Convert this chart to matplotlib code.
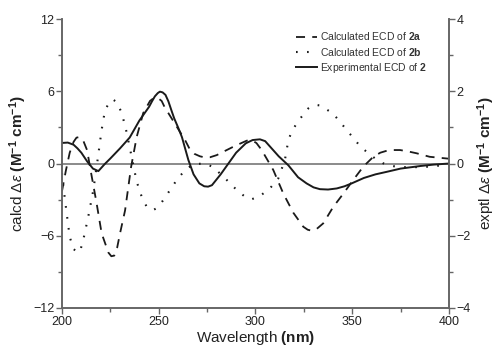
import matplotlib
matplotlib.use("Agg")
import matplotlib.pyplot as plt
from matplotlib.ticker import MultipleLocator

plt.rcParams['font.family'] = ['Liberation Sans', 'DejaVu Sans']
plt.rcParams['mathtext.fontset'] = 'custom'
plt.rcParams['mathtext.rm'] = 'Liberation Sans'
plt.rcParams['mathtext.it'] = 'Liberation Sans:italic'
plt.rcParams['mathtext.bf'] = 'Liberation Sans:bold'
plt.rcParams['mathtext.sf'] = 'Liberation Sans'

# Calculated ECD of 2a (left axis, calcd units)
wl_2a = [200, 202, 204, 206, 207.5, 209, 211, 213, 214.5, 217.9, 220.5, 224, 225.5,
         227, 228.5, 230, 232.6, 235.7, 238.6, 242, 245.5, 247.5, 249.5, 251.5, 253,
         258.4, 263.6, 266, 268.5, 271.3, 274, 276.5, 280, 283.4, 288, 292, 295.5,
         298, 300.5, 303.2, 309.2, 314.4, 319.6, 324.7, 327, 329, 331.5, 335, 340.2,
         345.4, 350.5, 355.7, 360.9, 364.5, 367.8, 371, 374.7, 379, 383.3, 390, 400]
ecd_2a = [-2.3, -0.6, 0.9, 1.8, 2.15, 2.2, 1.9, 1.1, -0.3, -3.3, -5.8, -7.4, -7.7,
          -7.65, -7.0, -5.8, -3.9, -0.3, 2.2, 4.2, 5.2, 5.45, 5.45, 5.2, 4.7,
          3.3, 1.95, 1.2, 0.8, 0.6, 0.5, 0.52, 0.7, 0.98, 1.35, 1.65, 1.9,
          1.95, 1.7, 1.12, -0.54, -2.5, -4.1, -5.25, -5.5, -5.58, -5.45, -4.97, -3.6,
          -2.5, -1.37, -0.26, 0.56, 0.9, 1.06, 1.12, 1.12, 1.0, 0.85, 0.56, 0.4]

# Calculated ECD of 2b (left axis, calcd units)
wl_2b = [200, 200.7, 202.4, 204, 206, 208, 209.5, 211, 213.6, 216.2, 218.4, 220.5,
         222.2, 224.8, 226.5, 228.3, 230.9, 233.4, 236, 238.6, 241.2, 243.8, 245.5,
         247.2, 249, 251.2, 254.6, 259.3, 263.6, 268, 273.9, 278.2, 286, 290.3, 294.6,
         298, 302.3, 307.5, 311.8, 315.2, 317, 318.7, 321.3, 323.9, 327.3, 329.5,
         331.6, 333.5, 335, 339.9, 343.7, 347.1, 350.5, 354, 358.3, 362, 366, 370.4,
         374.7, 383.3, 390, 398, 400]
ecd_2b = [-0.8, -1.9, -4.1, -6.1, -7.1, -7.4, -7.2, -6.35, -4.4, -2.2, 0.3, 2.8,
          4.4, 5.2, 5.3, 5.1, 4.2, 2.6, 0.56, -1.5, -2.76, -3.6, -3.8,
          -3.86, -3.7, -3.3, -2.5, -1.37, -0.54, -0.05, 0.0, -0.3, -1.5, -2.2, -2.76,
          -2.97, -2.7, -2.06, -1.23, 0.3, 1.95, 2.64, 3.34, 3.9, 4.58, 4.8,
          4.86, 4.82, 4.67, 4.17, 3.47, 2.78, 2.14, 1.45, 0.85, 0.4, 0.02, -0.2,
          -0.3, -0.3, -0.26, -0.12, -0.1]

# Experimental ECD of 2 (right axis, exptl units)
wl_exp = [200, 203, 206, 208, 210, 213, 216, 218.8, 222, 225, 230, 235, 240, 245,
          246.5, 248, 249.5, 250.6, 252, 253.5, 255, 256.7, 258, 260, 262, 265.3, 268,
          271, 273.5, 275.5, 277.5, 279, 282, 286, 290, 295, 298.5, 302.3, 305, 307,
          312, 317, 322, 326.4, 330, 333.3, 337.5, 342, 346, 349.7, 356, 362,
          367.8, 375, 385, 392, 400]
ecd_exp = [0.57, 0.58, 0.52, 0.42, 0.3, 0.06, -0.14, -0.21, -0.02, 0.14, 0.42, 0.72,
           1.19, 1.57, 1.72, 1.86, 1.95, 1.99, 1.97, 1.9, 1.72, 1.45, 1.25, 1.0, 0.73,
           0.1, -0.3, -0.55, -0.63, -0.64, -0.6, -0.5, -0.3, 0.0, 0.3, 0.56, 0.65,
           0.67, 0.62, 0.5, 0.2, -0.05, -0.38, -0.55, -0.66, -0.71, -0.72, -0.69,
           -0.63, -0.55, -0.4, -0.3, -0.23, -0.14, -0.07, -0.03, 0.0]

labels = [r'Calculated ECD of $\mathbf{2a}$',
          r'Calculated ECD of $\mathbf{2b}$',
          r'Experimental ECD of $\mathbf{2}$']

fig = plt.figure(figsize=(4.99, 3.53), dpi=100)
ax = fig.add_axes([0.1242, 0.1275, 0.7756, 0.8185])
ax2 = ax.twinx()

lc = '#1a1a1a'
ax.axhline(0, color='#777777', lw=1.2, zorder=1)
l1, = ax.plot(wl_2a, ecd_2a, color=lc, lw=1.3, dashes=(5, 4), label=labels[0])
l2, = ax.plot(wl_2b, ecd_2b, color=lc, lw=1.5, dashes=(0.8, 4.5), label=labels[1])
l3, = ax2.plot(wl_exp, ecd_exp, color=lc, lw=1.4, label=labels[2])

ax.set_xlim(200, 400)
ax.set_ylim(-12, 12)
ax2.set_ylim(-4, 4)

ax.xaxis.set_major_locator(MultipleLocator(50))
ax.xaxis.set_minor_locator(MultipleLocator(25))
ax.yaxis.set_major_locator(MultipleLocator(6))
ax.yaxis.set_minor_locator(MultipleLocator(3))
ax2.yaxis.set_major_locator(MultipleLocator(2))
ax2.yaxis.set_minor_locator(MultipleLocator(1))

sc = '#666666'
for a in (ax, ax2):
    a.spines['top'].set_visible(False)
    for s in a.spines.values():
        s.set_color(sc)
        s.set_linewidth(1.2)
    a.tick_params(which='major', direction='out', length=4, width=1, color=sc,
                  labelsize=9, labelcolor='#222222', pad=1.5)
    a.tick_params(which='minor', direction='out', length=3, width=1, color=sc)

ax.set_xlabel(r'Wavelength $\mathbf{(nm)}$', fontsize=11, color='#222222', labelpad=1)
ax.set_ylabel(r'calcd $\Delta\varepsilon$ $\mathbf{(M^{-1}\ cm^{-1})}$', fontsize=11,
              color='#222222', labelpad=3)
ax2.set_ylabel(r'exptl $\Delta\varepsilon$ $\mathbf{(M^{-1}\ cm^{-1})}$', fontsize=11,
               color='#222222', labelpad=3)

leg = ax.legend(handles=[l1, l2, l3], loc='upper right', bbox_to_anchor=(0.955, 0.975),
                frameon=False, fontsize=7.5, handlelength=2.0, handletextpad=0.3,
                labelspacing=0.3, borderaxespad=0)
for t in leg.get_texts():
    t.set_color('#333333')

fig.savefig('out.png', dpi=100)
